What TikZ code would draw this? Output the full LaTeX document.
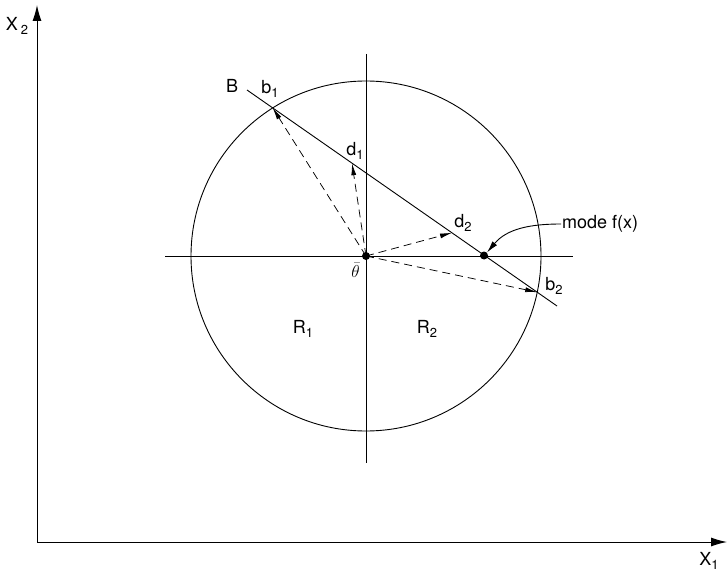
\documentclass[tikz,border=0pt]{standalone}
\usepackage{fontspec}
\setmainfont{TeX Gyre Heros}
\usetikzlibrary{arrows.meta}

\newcommand{\idx}[1]{\raisebox{-0.4ex}{\fontsize{13}{14}\selectfont #1}}

\tikzset{
  lbl/.style={font=\fontsize{18}{21}\selectfont, inner sep=1pt},
  ray/.style={dashed, dash pattern=on 8pt off 5pt, line width=0.75pt, -{Latex[length=12pt,width=5pt]}},
  axis/.style={line width=1pt, -{Latex[length=16pt,width=9pt]}},
  thin line/.style={line width=0.9pt},
  dot/.style={circle, fill, inner sep=0pt, minimum size=8pt}
}

\begin{document}
\begin{tikzpicture}[x=1pt,y=-1pt]
    \useasboundingbox (0,0) rectangle (728,572);

    % axes
    \coordinate (O) at (37,542);
    \coordinate (xend) at (727,542);
    \coordinate (yend) at (37,5);
    \draw[axis] (O) -- (xend);
    \draw[axis] (O) -- (yend);
    \node[lbl] (xone) at (709,561) {X\idx{1}};
    \node[lbl] (xtwo) at (17,26) {X\,\idx{2}};

    % circle and cross lines
    \coordinate (theta) at (366,256);
    \draw[thin line] (theta) circle (175pt);
    \coordinate (hl) at (165,256);
    \coordinate (hr) at (573,256);
    \coordinate (vt) at (366,54);
    \coordinate (vb) at (366,463);
    \draw[thin line] (hl) -- (hr);
    \draw[thin line] (vt) -- (vb);

    % line B
    \coordinate (Bs) at (247,90);
    \coordinate (Be) at (557,306);
    \draw[thin line] (Bs) -- (Be);
    \coordinate (b1) at (272.7,107.9);
    \coordinate (b2) at (537.2,292.2);
    \coordinate (d1) at (352,163.2);
    \coordinate (d2) at (452,232.8);
    \node[dot] (mode) at (484,255.5) {};
    \node[dot] (thetadot) at (theta) {};

    \draw[ray] (thetadot.center) -- (b1);
    \draw[ray] (thetadot.center) -- (d1);
    \draw[ray] (thetadot.center) -- (d2);
    \draw[ray] (thetadot.center) -- (b2);

    % labels
    \node[lbl] (Blbl) at (232,86) {B};
    \node[lbl] (b1lbl) at (270,89) {b\idx{1}};
    \node[lbl] (d1lbl) at (355,151) {d\idx{1}};
    \node[lbl] (d2lbl) at (463,223) {d\idx{2}};
    \node[lbl] (b2lbl) at (554,286) {b\idx{2}};
    \node[lbl, anchor=north east] (thlbl) at (361,262) {$\bar\theta$};
    \node[lbl] (R1) at (303,329) {R\idx{1}};
    \node[lbl] (R2) at (427,329) {R\idx{2}};
    \node[lbl, anchor=west] (modelbl) at (561,224) {mode f(x)};

    \draw[thin line, -{Latex[length=12pt,width=6pt]}] (modelbl.west) to[out=180,in=50] (mode.north east);
\end{tikzpicture}
\end{document}
